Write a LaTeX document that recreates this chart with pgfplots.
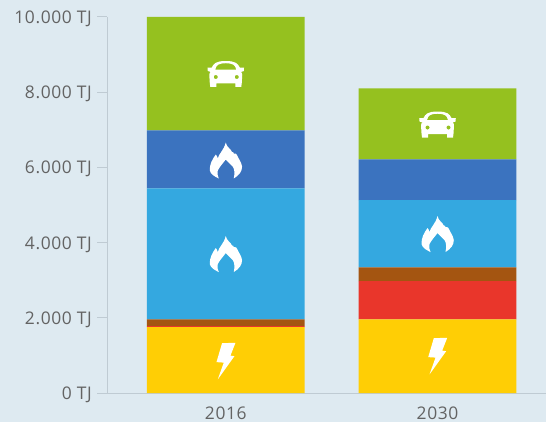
\documentclass[border=0pt]{standalone}
\usepackage{pgfplots}
\usepackage{fontspec}
\setmainfont{Open Sans}
\newfontfamily\tickfont[LetterSpace=3.5]{Open Sans}
\pgfplotsset{compat=1.18}
\definecolor{bg}{HTML}{DEEAF1}
\definecolor{cGreen}{HTML}{95C11F}
\definecolor{cBlue}{HTML}{3B73BF}
\definecolor{cLight}{HTML}{34A8E0}
\definecolor{cBrown}{HTML}{A45511}
\definecolor{cRed}{HTML}{E9362B}
\definecolor{cYellow}{HTML}{FFCE05}
\definecolor{axisc}{HTML}{BFCBD3}
\definecolor{txt}{HTML}{636363}
\tikzset{
 car/.pic={
  \fill[white,even odd rule,x=1bp,y=1bp]
   (-15.5,-13) -- (-9.5,-13) -- (-9.5,-9.5) -- (9.5,-9.5) -- (9.5,-13) -- (15.5,-13) -- (16,-9) -- (16.5,-1)
   .. controls (16.5,1) and (16,1.5) .. (15,2) -- (18,3) -- (18.3,6.5) -- (14,6.5)
   .. controls (12,10.5) and (10,13) .. (0,13) .. controls (-10,13) and (-12,10.5) .. (-14,6.5)
   -- (-18.3,6.5) -- (-18,3) -- (-15,2) .. controls (-16,1.5) and (-16.5,1) .. (-16.5,-1) -- (-16,-9) -- cycle
   (-10.5,4.5) -- (10.5,4.5) .. controls (9.5,9) and (7,10.8) .. (0,10.8) .. controls (-7,10.8) and (-9.5,9) .. (-10.5,4.5) -- cycle
   (-10,-3) circle (2.1) (11,-3) circle (2.1);
 },
 flame/.pic={
  \fill[white,x=1bp,y=1bp]
   (0,18) .. controls (1,13) and (5,12) .. (6.3,8.5) .. controls (7,8) and (8,9) .. (8,7)
   .. controls (10,8) and (11,6) .. (11.5,5) .. controls (13,1) and (15.5,-1) .. (16.3,-6)
   .. controls (16.5,-11) and (13,-15) .. (8,-18) .. controls (9,-13) and (9,-9) .. (7,-6)
   .. controls (4,-3) and (2,-1) .. (0,1) .. controls (-3,-3) and (-6,-6) .. (-8,-10)
   .. controls (-9,-13) and (-8,-15) .. (-7,-18) .. controls (-11,-16) and (-15,-14) .. (-16,-10)
   .. controls (-16.5,-4) and (-13,2) .. (-10,6) .. controls (-9,6) and (-8.5,3) .. (-8,2)
   .. controls (-7,7) and (-2,10) .. (0,18) -- cycle;
 },
 bolt/.pic={
  \fill[white,x=1bp,y=1bp]
   (-3.7,18) -- (9.7,18.3) -- (4.7,5.5) -- (8.7,5) -- (-8,-18.3) -- (-2,-1.5) -- (-9.3,-1) -- cycle;
 }
}
\begin{document}
\begin{tikzpicture}[x=1bp,y=1bp]
\fill[bg] (0,0) rectangle (546,422);
\begin{axis}[
  at={(107.5bp,28.5bp)}, anchor=south west,
  scale only axis, width=438.5bp, height=376.5bp,
  xmin=-0.559, xmax=1.51, ymin=0, ymax=10000,
  ybar stacked, bar width=0.745,
  axis x line*=bottom, axis y line*=left,
  axis line style={draw=axisc, line width=1pt, -},
  clip=false, scaled y ticks=false,
  xtick={0,1}, xticklabels={2016,2030},
  ytick={0,2000,4000,6000,8000,10000},
  yticklabels={0 TJ,2.000 TJ,4.000 TJ,6.000 TJ,8.000 TJ,10.000 TJ},
  tick align=outside,
  major tick length=10bp,
  x tick style={draw=none},
  y tick style={draw=axisc, line width=1pt},
  tick label style={font=\tickfont\fontsize{17.5}{20}\selectfont, text=txt},
  xticklabel style={yshift=0bp},
  yticklabel style={xshift=-2bp,yshift=-1.7bp},
]
\addplot[fill=cYellow,draw=none] coordinates {(0,1755) (1,1960)};
\addplot[fill=cRed,draw=none] coordinates {(0,25) (1,1019)};
\addplot[fill=cBrown,draw=none] coordinates {(0,180) (1,364)};
\addplot[fill=cLight,draw=none] coordinates {(0,3484) (1,1790)};
\addplot[fill=cBlue,draw=none] coordinates {(0,1542) (1,1082)};
\addplot[fill=cGreen,draw=none] coordinates {(0,3014) (1,1888)};
\coordinate (ca) at (axis cs:0,8484);
\coordinate (cb) at (axis cs:1,7141);
\coordinate (fa) at (axis cs:0,6184);
\coordinate (fb) at (axis cs:0,3697);
\coordinate (fc) at (axis cs:1,4229);
\coordinate (ba) at (axis cs:0,851);
\coordinate (bb) at (axis cs:1,984);
\end{axis}
\path (ca) pic {car};
\path (cb) pic {car};
\path (fa) pic {flame};
\path (fb) pic {flame};
\path (fc) pic {flame};
\path (ba) pic {bolt};
\path (bb) pic {bolt};
\end{tikzpicture}
\end{document}
